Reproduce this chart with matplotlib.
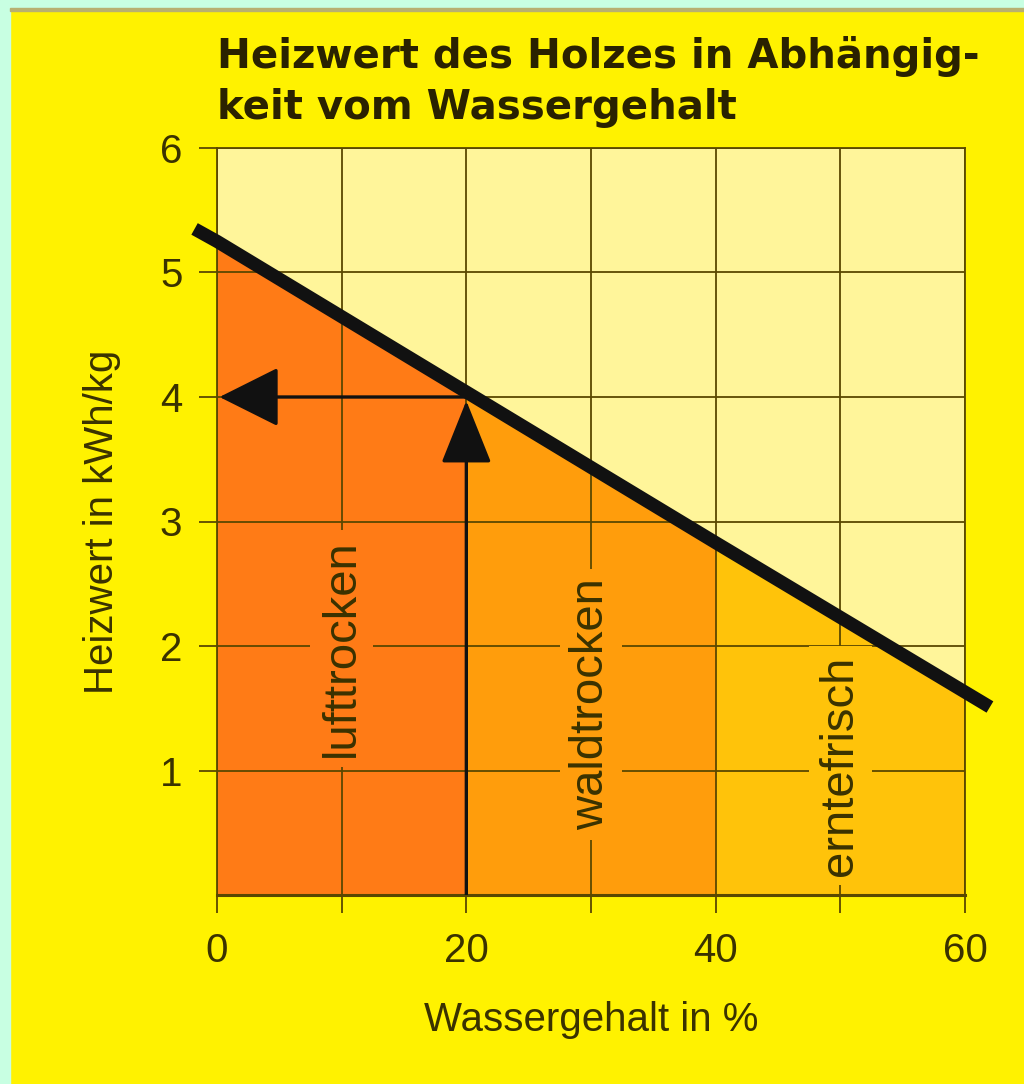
import matplotlib.pyplot as plt
from matplotlib.patches import Rectangle, FancyArrowPatch
import numpy as np

# Heizwert (kWh/kg) over Wassergehalt (%); line runs a bit past both axis ends.
line_x = [-1.8, 0, 20, 40, 60, 62]
line_y = [5.35, 5.25, 4.04, 2.83, 1.63, 1.51]

# Moisture zones below the line.
zone_names = ['lufttrocken', 'waldtrocken', 'erntefrisch']
zone_edges = [0, 20, 40, 60]
zone_label_x = [10, 30, 50]
zone_label_y = [1.98, 1.53, 1.04]
zone_colors = ['#ff7b16', '#ff9d0c', '#ffc30a']

# Example reading: 20 % water -> 4 kWh/kg.
read_x, read_y = 20, 4

x_ticks = [0, 20, 40, 60]
x_grid = [0, 10, 20, 30, 40, 50, 60]
y_ticks = [1, 2, 3, 4, 5, 6]

BG = '#fff200'
UPPER = '#fff59a'
GRID = '#5a4800'
TXT = '#3a3200'

plt.rcParams['font.family'] = ['Liberation Sans', 'DejaVu Sans']

fig = plt.figure(figsize=(10.24, 10.84), dpi=100, facecolor=BG)

# Cyan frame strips on the left and top of the scan.
fig.patches.append(Rectangle((0, 0), 10 / 1024, 1, transform=fig.transFigure, color='#c8ffe2', zorder=0))
fig.patches.append(Rectangle((0, 1 - 8 / 1084), 1, 8 / 1084, transform=fig.transFigure, color='#c8ffe2', zorder=0))
fig.patches.append(Rectangle((10 / 1024, 1 - 11 / 1084), 1, 3 / 1084, transform=fig.transFigure,
                             color='#b8b070', zorder=0))

ax = fig.add_axes([217 / 1024, 189 / 1084, 748 / 1024, 747 / 1084])
ax.set_facecolor(UPPER)
ax.set_xlim(0, 60)
ax.set_ylim(0, 6)

# Coloured zones under the curve.
for k, name in enumerate(zone_names):
    xs = np.linspace(zone_edges[k], zone_edges[k + 1], 60)
    ax.fill_between(xs, 0, np.interp(xs, line_x, line_y), color=zone_colors[k], lw=0, zorder=1)
    ax.text(zone_label_x[k], zone_label_y[k], name, rotation=90, ha='center', va='center', fontsize=34,
            color=TXT, zorder=3,
            bbox=dict(boxstyle='square,pad=0.2', facecolor=zone_colors[k], edgecolor='none'))

# Grid lines on top of the zones.
ax.set_axisbelow(False)
ax.set_xticks(x_grid)
ax.set_xticklabels([str(v) if v in x_ticks else '' for v in x_grid])
ax.set_yticks(y_ticks)
ax.grid(True, color=GRID, lw=1.3, zorder=2)
for s in ax.spines.values():
    s.set_color(GRID)
    s.set_linewidth(1.3)
ax.spines['bottom'].set_linewidth(2.2)
ax.tick_params(direction='out', length=13, width=1.3, color=GRID, labelcolor=TXT, labelsize=29)
ax.tick_params(axis='x', pad=14)
ax.tick_params(axis='y', pad=12)

# Main line.
ax.plot(line_x, line_y, color='#111', lw=9.5, solid_capstyle='butt', clip_on=False, zorder=5)

# Reading arrows.
ax.add_patch(FancyArrowPatch((read_x, 0), (read_x, read_y - 0.03), arrowstyle='-|>,head_length=40,head_width=16',
                             mutation_scale=1, color='#111', lw=2.4, shrinkA=0, shrinkB=0, zorder=4))
ax.add_patch(FancyArrowPatch((read_x, read_y), (0.2, read_y), arrowstyle='-|>,head_length=38,head_width=19',
                             mutation_scale=1, color='#111', lw=2.4, shrinkA=0, shrinkB=0, zorder=4))

ax.set_xlabel('Wassergehalt in %', fontsize=29, color=TXT, labelpad=22)
ax.set_ylabel('Heizwert in kWh/kg', fontsize=29, color=TXT, labelpad=28)

fig.text(217 / 1024, 1 - 36 / 1084, 'Heizwert des Holzes in Abhängig-\nkeit vom Wassergehalt', ha='left', va='top',
         fontsize=29, fontweight='bold', color='#2a2200', linespacing=1.35, family='DejaVu Sans')

fig.savefig('out.png', dpi=100, facecolor=BG)
